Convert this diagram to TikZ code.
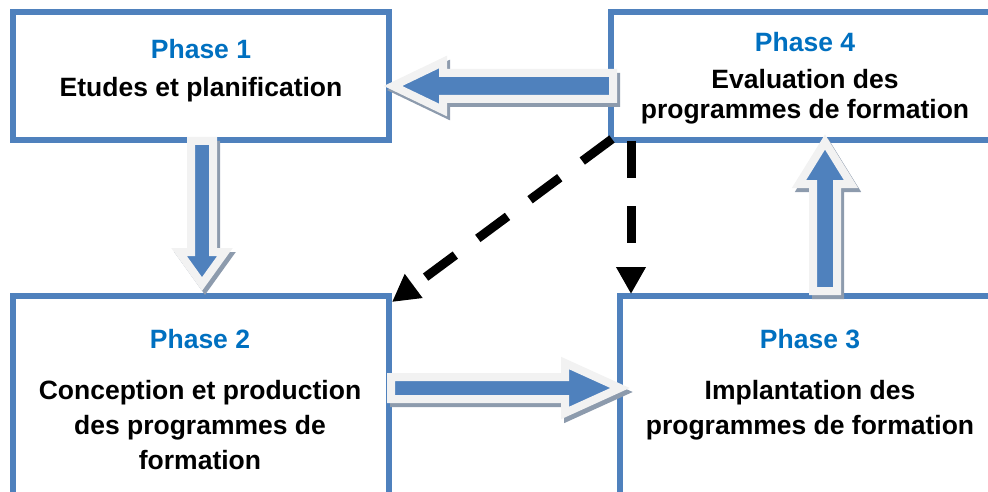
\documentclass[tikz,border=0pt]{standalone}
\usepackage{fontspec}
\setmainfont{Liberation Sans}
\usetikzlibrary{calc,arrows.meta}
\definecolor{bord}{HTML}{4F81BD}
\definecolor{ttl}{HTML}{0070C0}
\definecolor{afill}{HTML}{4F81BD}
\definecolor{aline}{HTML}{F2F2F2}
\definecolor{ashad}{HTML}{8D9BAD}
\tikzset{
  phasebox/.style={draw=bord, line width=6pt, fill=white, inner sep=0pt},
  phasetitle/.style={font=\fontsize{26.5}{35}\selectfont\bfseries, text=ttl, anchor=base, inner sep=0pt},
  phasebody/.style={font=\fontsize{26.5}{35}\selectfont\bfseries, align=center, anchor=south, inner sep=0pt, text depth=0pt},
  barrowsty/.style={draw=aline, fill=afill, line width=8pt, line join=miter},
  bshadsty/.style={draw=ashad, fill=ashad, line width=8pt, line join=miter},
  dasharrow/.style={line width=9pt, dash pattern=on 37pt off 28pt, -{Triangle[width=28pt,length=27pt]}},
}
% #1 tail, #2 tip, #3 shaft half width, #4 head half width, #5 head length
\newcommand\blockarr[5]{%
  \coordinate (ba-hb) at ($(#2)!#5pt!(#1)$);
  \coordinate (ba-t1) at ($(#1)!#3pt!90:(#2)$);
  \coordinate (ba-t2) at ($(#1)!#3pt!-90:(#2)$);
  \coordinate (ba-s1) at ($(ba-hb)!#3pt!90:(#2)$);
  \coordinate (ba-s2) at ($(ba-hb)!#3pt!-90:(#2)$);
  \coordinate (ba-h1) at ($(ba-hb)!#4pt!90:(#2)$);
  \coordinate (ba-h2) at ($(ba-hb)!#4pt!-90:(#2)$);
  \draw[bshadsty, transform canvas={shift={(3pt,-4pt)}}] (ba-t1) -- (ba-s1) -- (ba-h1) -- (#2) -- (ba-h2) -- (ba-s2) -- (ba-t2) -- cycle;
  \draw[barrowsty] (ba-t1) -- (ba-s1) -- (ba-h1) -- (#2) -- (ba-h2) -- (ba-s2) -- (ba-t2) -- cycle;
}
\begin{document}
\begin{tikzpicture}[x=1pt, y=-1pt]
\useasboundingbox (0,0) rectangle (988,492);
\clip (0,0) rectangle (988,492);

% boxes
\node[phasebox, minimum width=376pt, minimum height=128pt] (p1) at (201,76) {};
\node[phasebox, minimum width=388pt, minimum height=128pt] (p4) at (805,76) {};
\node[phasebox, minimum width=376pt, minimum height=224pt] (p2) at (201,408) {};
\node[phasebox, minimum width=380pt, minimum height=224pt] (p3) at (810,408) {};

% texts
\node[phasetitle] (p1t) at (201,59) {Phase 1};
\node[phasebody] (p1b) at (201,97) {Etudes et planification};
\node[phasetitle] (p4t) at (805,52) {Phase 4};
\node[phasebody, font=\fontsize{26.5}{30}\selectfont\bfseries] (p4b) at (805,119) {Evaluation des\\programmes de formation};
\node[phasetitle] (p2t) at (200,348) {Phase 2};
\node[phasebody] (p2b) at (200,470) {Conception et production\\des programmes de\\formation};
\node[phasetitle] (p3t) at (810,348) {Phase 3};
\node[phasebody] (p3b) at (810,435) {Implantation des\\programmes de formation};

% block arrow end points
\coordinate (a41) at (613,86);
\coordinate (a14) at (393,86);
\coordinate (a12) at (202,141);
\coordinate (a21) at (202,284);
\coordinate (a23) at (391,388);
\coordinate (a32) at (620,388);
\coordinate (a34) at (825,291);
\coordinate (a43) at (825,142);

\blockarr{a41}{a14}{13}{24}{50}
\blockarr{a12}{a21}{11}{23}{32}
\blockarr{a23}{a32}{11}{25}{55}
\blockarr{a34}{a43}{12}{26}{42}

% dashed arrows
\coordinate (d4a) at (612,139);
\coordinate (d2) at (392,302);
\coordinate (d4b) at (631,141);
\coordinate (d3) at (631,294);
\draw[dasharrow] (d4a) -- (d2);
\draw[dasharrow] (d4b) -- (d3);
\end{tikzpicture}
\end{document}
